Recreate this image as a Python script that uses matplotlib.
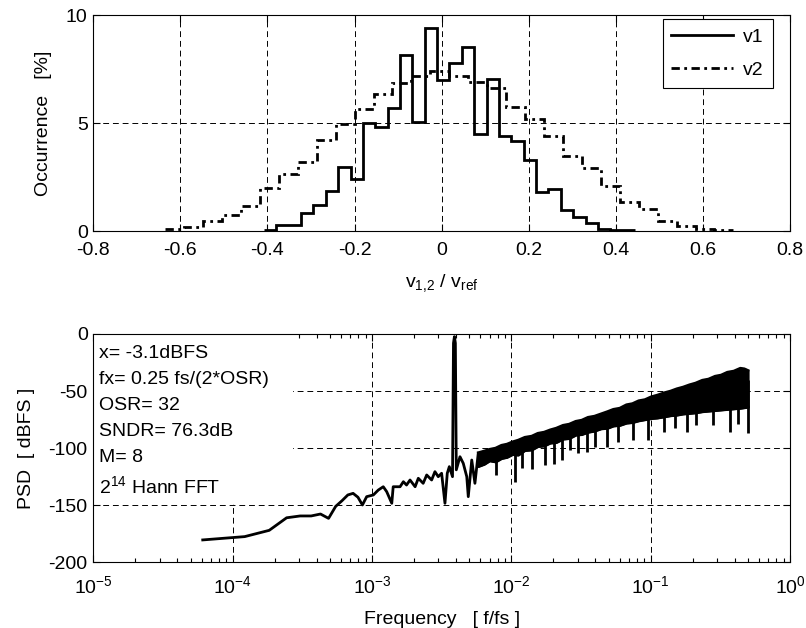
import numpy as np
import matplotlib
matplotlib.use('Agg')
import matplotlib.pyplot as plt
from matplotlib.lines import Line2D
from matplotlib.patches import Rectangle

plt.rcParams.update({
    'font.family': ['Liberation Sans', 'DejaVu Sans'],
    'font.size': 14,
    'mathtext.fontset': 'custom',
    'mathtext.rm': 'Liberation Sans',
    'mathtext.it': 'Liberation Sans:italic',
    'mathtext.bf': 'Liberation Sans:bold',
    'axes.unicode_minus': False,
    'axes.linewidth': 0.8,
})

# ---- histogram data (occurrence in %) ----
v1_start, v1_width = -0.408, 0.0284
v1_pct = [0.06, 0.26, 0.26, 0.85, 1.2, 1.85, 2.97, 2.43, 5.0, 4.8,
          5.7, 8.15, 5.06, 9.38, 6.99, 7.79, 8.53, 4.49, 7.04, 4.42,
          4.18, 3.29, 1.8, 1.95, 0.95, 0.65, 0.37, 0.11, 0.06, 0.06]
v2_start, v2_width = -0.635, 0.0435
v2_pct = [0.1, 0.18, 0.45, 0.73, 1.16, 2.0, 2.66, 3.2, 4.2, 4.95,
          5.64, 6.32, 6.84, 7.18, 7.41, 7.18, 6.91, 6.6, 5.72, 5.2,
          4.4, 3.46, 2.9, 2.08, 1.34, 1.03, 0.46, 0.22, 0.11, 0.06]
hist_xticks = [-0.8, -0.6, -0.4, -0.2, 0, 0.2, 0.4, 0.6, 0.8]
hist_xlabels = ['-0.8', '-0.6', '-0.4', '-0.2', '0', '0.2', '0.4', '0.6', '0.8']

# ---- PSD data, low frequency part (resolved bins) ----
psd_freq = [6.1e-5, 1.22e-4, 1.83e-4, 2.44e-4, 3.05e-4, 3.66e-4, 4.27e-4, 4.88e-4,
            5.49e-4, 6.1e-4, 6.71e-4, 7.32e-4, 7.93e-4, 8.54e-4, 9.16e-4, 1.023e-3,
            1.11e-3, 1.205e-3, 1.275e-3, 1.387e-3, 1.42e-3, 1.59e-3, 1.68e-3, 1.77e-3,
            1.875e-3, 2.04e-3, 2.15e-3, 2.33e-3, 2.47e-3, 2.68e-3, 2.83e-3, 2.99e-3,
            3.16e-3, 3.34e-3, 3.47e-3, 3.59e-3, 3.784e-3, 3.845e-3, 3.906e-3, 3.967e-3,
            4.028e-3, 4.28e-3, 4.52e-3, 4.79e-3, 4.91e-3, 5.2e-3, 5.48e-3, 5.79e-3]
psd_db = [-180.4, -177.5, -172, -161, -159.4, -159.4, -157.7, -161.5,
          -151, -146, -141, -139.6, -143, -149.8, -142.5, -141,
          -136.7, -133.8, -138.1, -148.3, -133.8, -133.8, -129.4, -132.3,
          -127.9, -133.8, -126.4, -130.8, -123.5, -127.9, -120.6, -125,
          -122, -148.3, -122, -116.2, -125, -8, -2.3, -8,
          -119, -107.5, -113.3, -125, -142.5, -110.4, -130.8, -104.5]

# dense noise band above ~6e-3 (upper / lower edge of the black band)
band_freq = [5.8e-3, 6.4e-3, 7.0e-3, 7.7e-3, 8.5e-3, 9.3e-3, 1.02e-2, 1.12e-2, 1.25e-2,
             1.4e-2, 1.55e-2, 1.72e-2, 1.9e-2, 2.1e-2, 2.35e-2, 2.6e-2, 2.9e-2, 3.2e-2,
             3.55e-2, 3.95e-2, 4.4e-2, 4.9e-2, 5.4e-2, 6.0e-2, 6.7e-2, 7.4e-2, 8.2e-2,
             9.1e-2, 0.101, 0.112, 0.125, 0.139, 0.154, 0.171, 0.19, 0.21, 0.235, 0.26,
             0.29, 0.32, 0.355, 0.395, 0.44, 0.47, 0.5]
band_hi = [-104, -102.5, -101, -100, -97.5, -96.5, -94.5, -93, -90.5,
           -89.5, -87, -86, -84, -82.5, -80, -79, -76.5, -75.5,
           -73, -72, -70, -68, -66, -65, -62, -61, -58.5,
           -57.5, -55, -53.5, -51.5, -50, -48, -46.5, -44.5, -43, -40.5, -39.5,
           -37, -36, -33.5, -32.5, -30, -30.5, -32]
band_lo = [-116, -114, -111, -112, -109, -108, -105.5, -106, -102,
           -101.5, -98.5, -98, -95.5, -95, -92, -91.5, -88.5, -88,
           -86, -85, -83, -82.5, -80.5, -80, -78, -77.5, -76,
           -75, -74, -73.5, -72.5, -71.5, -71, -70, -69.5, -69, -68, -67.5,
           -67, -66.5, -66, -65.5, -65, -64.5, -64]

# downward spikes out of the band
spike_freq = [7.7e-3, 1.06e-2, 1.2e-2, 1.4e-2, 1.75e-2, 2.02e-2, 2.3e-2, 2.65e-2, 3.0e-2,
              3.47e-2, 4.0e-2, 4.84e-2, 5.8e-2, 7.5e-2, 9.6e-2, 0.125, 0.15, 0.1815,
              0.21, 0.28, 0.371, 0.42, 0.5]
spike_top = [-110, -104, -103, -100, -96, -93, -90, -88, -86,
             -84, -82, -80, -78, -75, -73, -70, -69, -67,
             -67, -65, -64, -63, -40]
spike_bot = [-123.5, -130, -117, -118, -115, -114, -110, -101.6, -104,
             -103, -99, -98.7, -95, -92.9, -92.9, -86, -82, -85.6,
             -80, -80, -85.6, -79, -86.4]

psd_notes = ['x= -3.1dBFS', 'fx= 0.25 fs/(2*OSR)', 'OSR= 32', 'SNDR= 76.3dB', 'M= 8',
             r'$\mathregular{2^{14}}$ Hann FFT']

W, H = 806, 628
fig = plt.figure(figsize=(W / 100, H / 100), dpi=100)

def px_axes(left, top, right, bottom):
    return [left / W, 1 - bottom / H, (right - left) / W, (bottom - top) / H]

ax1 = fig.add_axes(px_axes(93.3, 15, 790, 231))
ax2 = fig.add_axes(px_axes(93.3, 334, 790, 562.3))

dashdot = (0, (3, 1.6, 1, 1.6))
grid_ls = (0, (6, 4))

# ---- top: histogram ----
v1_edges = v1_start + v1_width * np.arange(len(v1_pct) + 1)
v2_edges = v2_start + v2_width * np.arange(len(v2_pct) + 1)
ax1.stairs(v1_pct, v1_edges, color='k', lw=2, baseline=None)
ax1.stairs(v2_pct, v2_edges, color='k', lw=2, ls=dashdot, baseline=None)
ax1.set_xlim(-0.8, 0.8)
ax1.set_ylim(0, 10)
ax1.set_xticks(hist_xticks, hist_xlabels)
ax1.set_yticks([0, 5, 10])
ax1.grid(True, color='k', ls=grid_ls, lw=0.7)
ax1.tick_params(direction='in', top=True, right=True, length=5, width=0.8)
ax1.tick_params(axis='x', pad=8)
ax1.tick_params(axis='y', pad=4)
ax1.set_xlabel(r'$\mathregular{v_{1{,}2}\ /\ v_{ref}}$')
ax1.xaxis.set_label_coords(0.5, -0.19)
ax1.set_ylabel('Occurrence   [%]')
ax1.yaxis.set_label_coords(-0.059, 0.5)

handles = [Line2D([], [], color='k', lw=2), Line2D([], [], color='k', lw=2, ls=dashdot)]
leg = ax1.legend(handles, ['v1', 'v2'], loc='upper right', bbox_to_anchor=(0.975, 0.98),
                 borderaxespad=0, fancybox=False, framealpha=1, edgecolor='k',
                 handlelength=3.2, handletextpad=0.5, labelspacing=0.8, borderpad=0.45)
leg.get_frame().set_linewidth(0.8)

# ---- bottom: PSD ----
ax2.set_xscale('log')
ax2.set_xlim(1e-5, 1)
ax2.set_ylim(-200, 0)
ax2.set_yticks([-200, -150, -100, -50, 0])
for t in [1e-4, 1e-3, 1e-2, 1e-1]:
    ax2.axvline(t, color='k', ls=grid_ls, lw=0.7, zorder=1)
for t in [-150, -100, -50]:
    ax2.axhline(t, color='k', ls=grid_ls, lw=0.7, zorder=1)
# white background behind the annotation block
ax2.add_patch(Rectangle((0, 0.256), 0.287, 0.744, transform=ax2.transAxes,
                        facecolor='white', edgecolor='none', zorder=1.7))

ax2.fill_between(band_freq, band_lo, band_hi, color='k', lw=1.5, zorder=2)
ax2.plot(band_freq, band_hi, color='k', lw=2, zorder=2)
ax2.plot(band_freq, band_lo, color='k', lw=2, zorder=2)
ax2.vlines(spike_freq, spike_bot, spike_top, color='k', lw=2, zorder=2)
ax2.plot(psd_freq, psd_db, color='k', lw=2, zorder=2)

ax2.tick_params(which='both', direction='in', top=True, right=True, width=0.8)
ax2.tick_params(which='major', length=5)
ax2.tick_params(which='minor', length=3)
ax2.tick_params(axis='x', which='both', pad=9)
ax2.tick_params(axis='y', pad=4)
for s in ax2.spines.values():
    s.set_zorder(3)
ax2.set_xlabel('Frequency   [ f/fs ]')
ax2.xaxis.set_label_coords(0.5, -0.215)
ax2.set_ylabel('PSD  [ dBFS ]')
ax2.yaxis.set_label_coords(-0.083, 0.5)

baselines = [358.3, 384.1, 409.9, 435.7, 461.5, 492.7]
for note, by in zip(psd_notes, baselines):
    ax2.text(0.0086, (562.3 - by) / 228.3, note, transform=ax2.transAxes,
             ha='left', va='baseline', zorder=4)

fig.savefig('out.png', dpi=100)
